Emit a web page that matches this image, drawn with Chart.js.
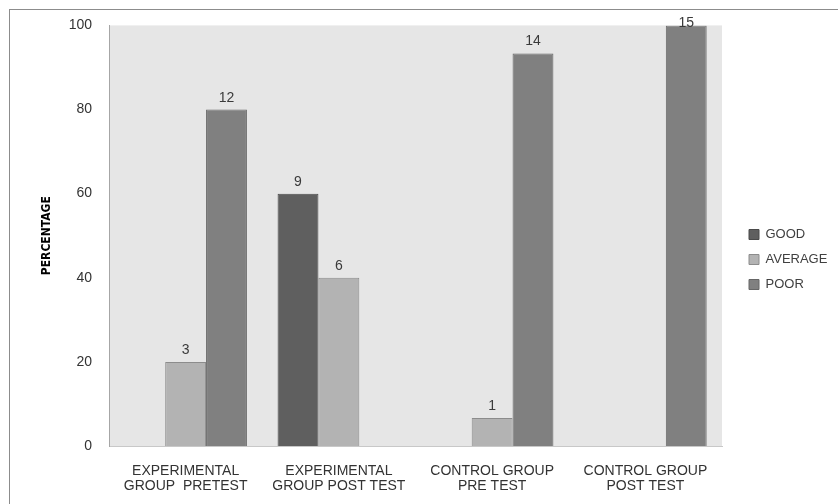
<!DOCTYPE html>
<html>
<head>
<meta charset="utf-8">
<script src="https://cdn.jsdelivr.net/npm/chart.js@4.4.1/dist/chart.umd.min.js"></script>
<style>
  html, body { margin: 0; padding: 0; background: #ffffff; }
  #wrap { width: 838px; height: 504px; }
</style>
</head>
<body>
<div id="wrap"><canvas id="c" width="838" height="504"></canvas></div>
<script>
// Groups tested (two-line axis labels)
const categories = [
  ['EXPERIMENTAL', 'GROUP  PRETEST'],
  ['EXPERIMENTAL', 'GROUP POST TEST'],
  ['CONTROL GROUP', 'PRE TEST'],
  ['CONTROL GROUP', 'POST TEST']
];
// Students in each group
const groupSize = 15;
// Number of students per grade (null = none)
const goodCounts    = [null, 9, null, null];
const averageCounts = [3, 6, 1, null];
const poorCounts    = [12, null, 14, 15];
// Percentage axis ticks
const yTicks = [0, 20, 40, 60, 80, 100];

const toPercent = counts => counts.map(n => (n == null ? null : (n / groupSize) * 100));

const FONT = '"Liberation Sans", Arial, sans-serif';

// White page, grey frame and shaded plot area
const frame = {
  id: 'frame',
  beforeDraw(chart) {
    const { ctx, chartArea: a } = chart;
    ctx.save();
    ctx.fillStyle = '#ffffff';
    ctx.fillRect(0, 0, chart.width, chart.height);
    ctx.strokeStyle = '#8c8c8c';
    ctx.lineWidth = 1;
    ctx.strokeRect(9.5, 9.5, chart.width + 20, chart.height + 20);
    ctx.fillStyle = '#e6e6e6';
    ctx.fillRect(a.left, a.top, a.right - a.left, a.bottom - a.top);
    ctx.restore();
  }
};

// Student counts written above each bar
const countLabels = {
  id: 'countLabels',
  afterDatasetsDraw(chart) {
    const { ctx, chartArea } = chart;
    ctx.save();
    ctx.font = '14px ' + FONT;
    ctx.fillStyle = '#3a3a3a';
    ctx.textAlign = 'center';
    ctx.textBaseline = 'alphabetic';
    chart.data.datasets.forEach((ds, i) => {
      chart.getDatasetMeta(i).data.forEach((bar, j) => {
        const n = ds.counts[j];
        if (n == null) return;
        const y = Math.max(bar.y - 8, chartArea.top + 2);
        ctx.fillText(String(n), bar.x, y);
      });
    });
    ctx.restore();
  }
};

// Fixed legend column to the right of the plot
const legendColumn = {
  id: 'legendColumn',
  beforeLayout(chart) {
    const lg = chart.legend;
    if (lg && !lg._fixedFit) {
      const fit = lg.fit.bind(lg);
      lg.fit = function () { fit(); this.width = 116; };
      lg._fixedFit = true;
    }
  },
  afterLayout(chart) {
    const lg = chart.legend;
    if (!lg) return;
    const w = lg.width, h = lg.height;
    lg.left = 737; lg.right = lg.left + w;
    lg.top = 216; lg.bottom = lg.top + h;
  }
};

new Chart(document.getElementById('c'), {
  type: 'bar',
  data: {
    labels: categories,
    datasets: [
      { label: 'GOOD', counts: goodCounts, data: toPercent(goodCounts),
        backgroundColor: '#5f5f5f', borderColor: '#4a4a4a', borderWidth: 1 },
      { label: 'AVERAGE', counts: averageCounts, data: toPercent(averageCounts),
        backgroundColor: '#b3b3b3', borderColor: '#8c8c8c', borderWidth: 1 },
      { label: 'POOR', counts: poorCounts, data: toPercent(poorCounts),
        backgroundColor: '#808080', borderColor: '#666666', borderWidth: 1 }
    ]
  },
  options: {
    responsive: false,
    devicePixelRatio: 1,
    animation: false,
    events: [],
    datasets: { bar: { categoryPercentage: 0.8, barPercentage: 1.0 } },
    layout: { padding: { top: 25, left: 0, right: 0, bottom: 0 } },
    scales: {
      x: {
        grid: { display: false, drawTicks: false },
        border: { display: true, color: '#c8c8c8', width: 1 },
        ticks: { color: '#333333', font: { family: FONT, size: 14, lineHeight: 1.1 },
                 padding: 17, maxRotation: 0, autoSkip: false },
        afterFit(scale) { scale.height = 58; }
      },
      y: {
        min: 0, max: 100,
        grid: { display: false, drawTicks: false },
        border: { display: true, color: '#a6a6a6', width: 1 },
        ticks: { color: '#333333', font: { family: FONT, size: 14 }, padding: 17 },
        afterBuildTicks(scale) { scale.ticks = yTicks.map(v => ({ value: v })); },
        title: {
          display: true, text: 'PERCENTAGE', color: '#000000',
          font: { family: '"Liberation Sans Narrow", "DejaVu Sans Condensed", Arial, sans-serif', size: 12, weight: 'bold', lineHeight: 1.2 },
          padding: { top: 40, bottom: 0 }
        },
        afterFit(scale) { scale.width = 109; }
      }
    },
    plugins: {
      legend: {
        position: 'right',
        align: 'start',
        labels: { color: '#404040', font: { family: FONT, size: 13 },
                  boxWidth: 10, boxHeight: 10, padding: 12 }
      },
      tooltip: { enabled: false }
    }
  },
  plugins: [frame, countLabels, legendColumn]
});
</script>
</body>
</html>
